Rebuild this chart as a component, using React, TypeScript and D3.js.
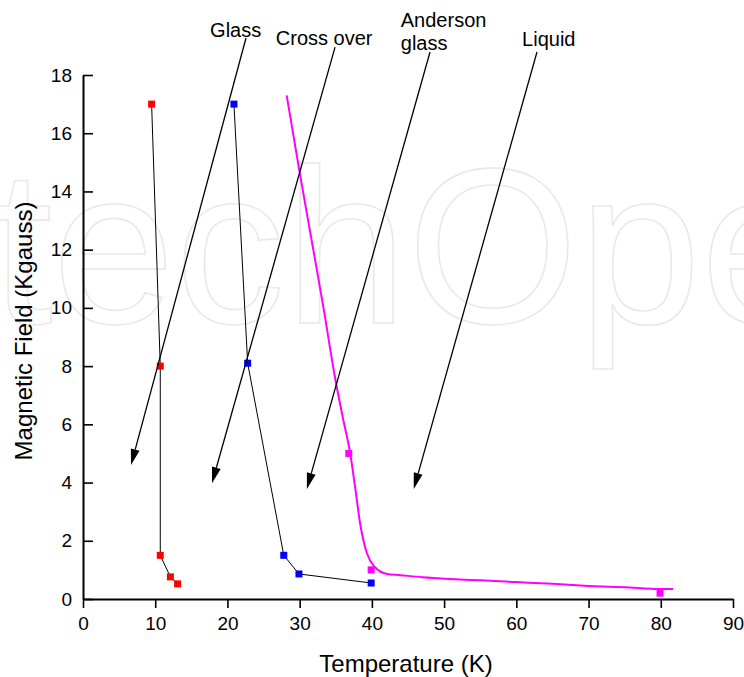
import { useEffect, useRef } from 'react'
import * as d3 from 'd3'

// red series (Glass boundary)
const redT = [9.5, 10.7, 10.7, 12.1, 13.1]
const redB = [17, 8, 1.5, 0.76, 0.52]

// blue series (Cross over boundary)
const blueT = [20.9, 22.8, 27.8, 29.9, 39.9]
const blueB = [17, 8.1, 1.5, 0.86, 0.55]

// magenta markers
const magT = [36.8, 39.9, 79.9]
const magB = [5.0, 1.0, 0.2]

// magenta fitted curve
const fitT = [28.2, 29.9, 31.6, 33.3, 34.9, 36.0, 37.0, 37.7, 38.4, 39.3, 40.4, 42.1, 43.9, 47, 50.8, 55, 60, 65, 70, 75, 79.9, 81.7]
const fitB = [17.3, 14.8, 12.4, 10.0, 7.6, 6.2, 5.0, 3.8, 2.55, 1.58, 1.1, 0.86, 0.82, 0.75, 0.69, 0.64, 0.58, 0.52, 0.45, 0.4, 0.34, 0.34]

// annotations: label lines, label anchor and arrow tail/tip, in data units
const annoLines = [['Glass'], ['Cross over'], ['Anderson', 'glass'], ['Liquid']]
const annoLabelT = [17.6, 26.7, 44.0, 60.8]
const annoLabelB = [19.31, 19.03, 19.65, 19.0]
const annoTailT = [22.57, 34.9, 48.05, 62.86]
const annoTailB = [19.27, 18.96, 18.79, 18.79]
const annoTipT = [6.65, 17.86, 31.0, 45.8]
const annoTipB = [4.6, 3.98, 3.78, 3.78]

const xTicks = [0, 10, 20, 30, 40, 50, 60, 70, 80, 90]
const yTicks = [0, 2, 4, 6, 8, 10, 12, 14, 16, 18]

const FONT = "'Liberation Sans', Arial, sans-serif"

export default function App() {
  const ref = useRef<SVGSVGElement>(null)

  useEffect(() => {
    if (!ref.current) return
    const svg = d3.select(ref.current)
    svg.selectAll('*').remove()

    const x = d3.scaleLinear().domain([0, 90]).range([83, 733])
    const y = d3.scaleLinear().domain([0, 18]).range([599, 75])

    // watermark
    svg.append('text')
      .attr('x', -192)
      .attr('y', 323)
      .attr('font-family', FONT)
      .attr('font-size', 220)
      .attr('fill', 'none')
      .attr('stroke', '#e9e9e9')
      .attr('stroke-width', 1.6)
      .text('IntechOpen')

    // minor ticks
    const minorX = d3.range(5, 90, 10)
    const minorY = d3.range(1, 18, 2)

    const gx = svg.append('g').attr('transform', `translate(0,${y(0)})`)
    gx.call(d3.axisBottom(x).tickValues(minorX).tickSize(6).tickSizeOuter(0).tickFormat(() => ''))
    gx.call(d3.axisBottom(x).tickValues(xTicks).tickSize(9).tickSizeOuter(0).tickPadding(9).tickFormat(d3.format('d')))
    gx.attr('font-family', FONT).attr('font-size', 19)
    gx.selectAll('path.domain').attr('stroke-width', 2)
    gx.selectAll('line').attr('stroke-width', 1.6)
    gx.selectAll('text').attr('fill', '#000')

    const gy = svg.append('g').attr('transform', `translate(${x(0)},0)`)
    gy.call(d3.axisLeft(y).tickValues(minorY).tickSize(-5).tickSizeOuter(0).tickFormat(() => ''))
    gy.call(d3.axisLeft(y).tickValues(yTicks).tickSize(-10).tickSizeOuter(0).tickPadding(11).tickFormat(d3.format('d')))
    gy.attr('font-family', FONT).attr('font-size', 19)
    gy.selectAll('path.domain').attr('stroke-width', 2)
    gy.selectAll('line').attr('stroke-width', 1.6)
    gy.selectAll('text').attr('fill', '#000')

    // axis titles
    svg.append('text')
      .attr('x', 406)
      .attr('y', 672)
      .attr('text-anchor', 'middle')
      .attr('font-family', FONT)
      .attr('font-size', 24)
      .text('Temperature (K)')

    svg.append('text')
      .attr('transform', 'translate(32,331) rotate(-90)')
      .attr('text-anchor', 'middle')
      .attr('font-family', FONT)
      .attr('font-size', 24)
      .text('Magnetic Field (Kgauss)')

    const line = d3.line<[number, number]>().x(d => x(d[0])).y(d => y(d[1]))

    // connecting lines
    const redPts = redT.map((t, i) => [t, redB[i]] as [number, number])
    const bluePts = blueT.map((t, i) => [t, blueB[i]] as [number, number])
    for (const pts of [redPts, bluePts]) {
      svg.append('path')
        .attr('d', line(pts))
        .attr('fill', 'none')
        .attr('stroke', '#000')
        .attr('stroke-width', 1)
    }

    // magenta curve
    const fitPts = fitT.map((t, i) => [t, fitB[i]] as [number, number])
    svg.append('path')
      .attr('d', line.curve(d3.curveMonotoneX)(fitPts))
      .attr('fill', 'none')
      .attr('stroke', '#ff00ff')
      .attr('stroke-width', 2)

    // markers
    const s = 7
    const series: [number[], number[], string][] = [
      [redT, redB, '#ff0000'],
      [blueT, blueB, '#0000ff'],
      [magT, magB, '#ff00ff'],
    ]
    for (const [ts, bs, c] of series) {
      svg.append('g').selectAll('rect')
        .data(ts.map((t, i) => [t, bs[i]]))
        .enter()
        .append('rect')
        .attr('x', d => x(d[0]) - s / 2)
        .attr('y', d => y(d[1]) - s / 2)
        .attr('width', s)
        .attr('height', s)
        .attr('fill', c)
    }

    // annotation arrows
    annoLines.forEach((lines, i) => {
      const x0 = x(annoTailT[i]), y0 = y(annoTailB[i])
      const x1 = x(annoTipT[i]), y1 = y(annoTipB[i])
      const ang = Math.atan2(y1 - y0, x1 - x0)
      const len = 16, hw = 4.5
      const bx = x1 - len * Math.cos(ang), by = y1 - len * Math.sin(ang)
      svg.append('line')
        .attr('x1', x0).attr('y1', y0)
        .attr('x2', bx).attr('y2', by)
        .attr('stroke', '#000')
        .attr('stroke-width', 1.3)
      const px = -Math.sin(ang) * hw, py = Math.cos(ang) * hw
      svg.append('path')
        .attr('d', `M${x1},${y1}L${bx + px},${by + py}L${bx - px},${by - py}Z`)
        .attr('fill', '#000')

      const txt = svg.append('text')
        .attr('x', x(annoLabelT[i]))
        .attr('y', y(annoLabelB[i]))
        .attr('font-family', FONT)
        .attr('font-size', 20)
      lines.forEach((l, j) => {
        txt.append('tspan')
          .attr('x', x(annoLabelT[i]))
          .attr('dy', j === 0 ? 0 : 23)
          .text(l)
      })
    })
  }, [])

  return (
    <svg
      ref={ref}
      width={744}
      height={677}
      style={{ position: 'absolute', left: 0, top: 0, background: '#fff' }}
    />
  )
}
